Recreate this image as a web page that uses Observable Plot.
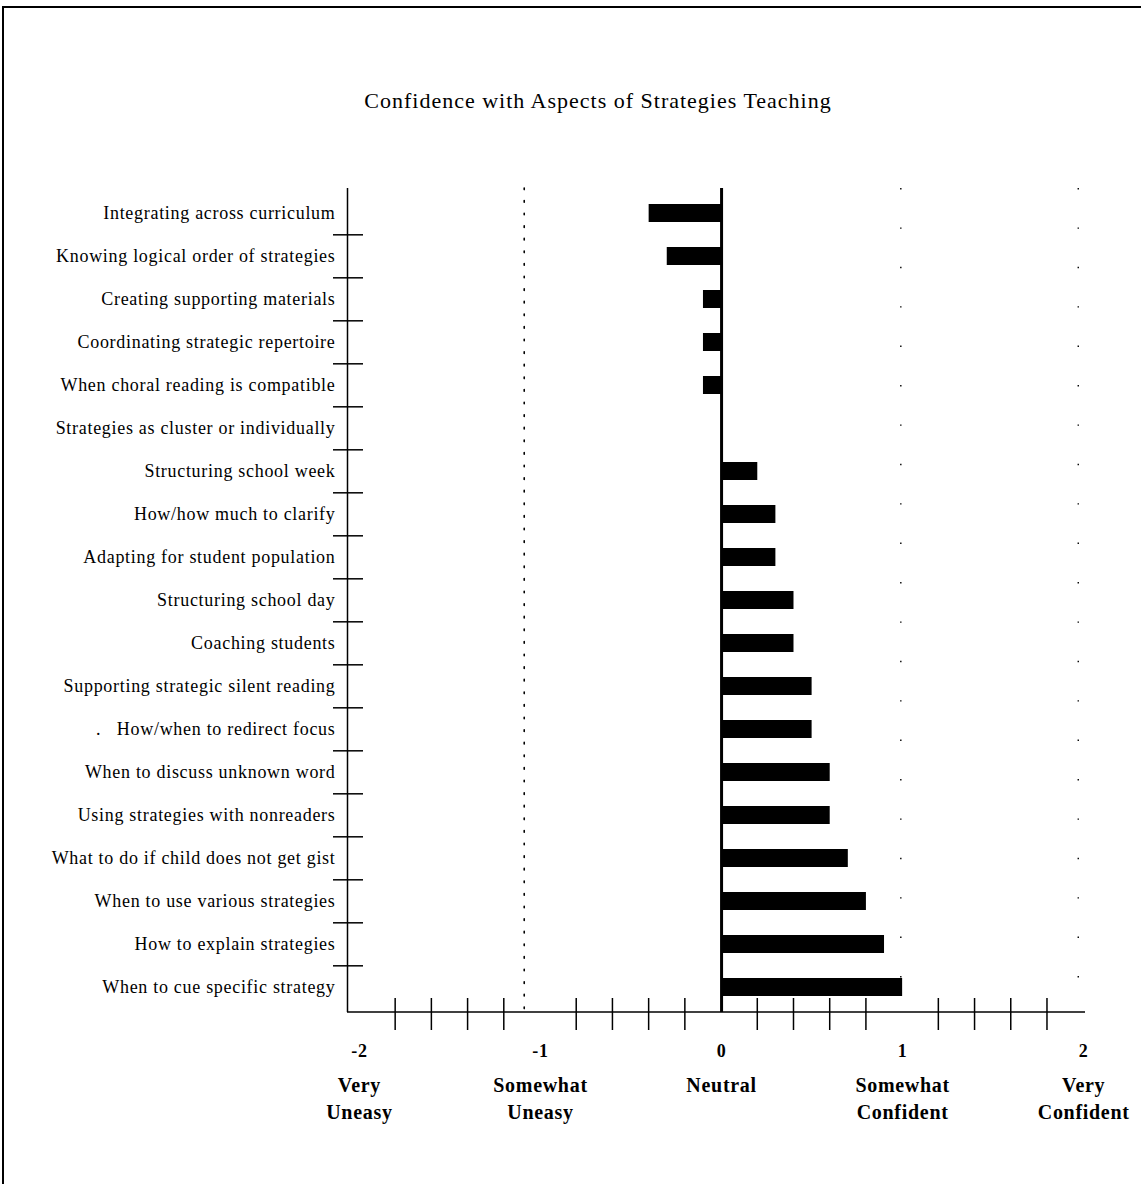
<!DOCTYPE html>
<html>
<head>
<meta charset="utf-8">
<script src="https://cdn.jsdelivr.net/npm/d3@7"></script>
<script src="https://cdn.jsdelivr.net/npm/@observablehq/plot@0.6"></script>
<style>
  html, body { margin: 0; padding: 0; background: #fff; }
  #page { position: relative; width: 1141px; height: 1184px; overflow: hidden; background: #fff; }
  #border { position: absolute; left: 2px; top: 6px; width: 1145px; height: 1190px;
            border-left: 2px solid #000; border-top: 2px solid #000; }
  #title { position: absolute; left: 0; width: 1196px; top: 88px; text-align: center;
           font-family: "Liberation Serif", "DejaVu Serif", serif; font-size: 22px; letter-spacing: 1px; color: #000; }
  #chart { position: absolute; left: 0; top: 0; }
</style>
</head>
<body>
<div id="page">
  <div id="border"></div>
  <div id="title">Confidence with Aspects of Strategies Teaching</div>
  <div id="chart"></div>
</div>
<script>
const categories = [
  "Integrating across curriculum",
  "Knowing logical order of strategies",
  "Creating supporting materials",
  "Coordinating strategic repertoire",
  "When choral reading is compatible",
  "Strategies as cluster or individually",
  "Structuring school week",
  "How/how much to clarify",
  "Adapting for student population",
  "Structuring school day",
  "Coaching students",
  "Supporting strategic silent reading",
  ".   How/when to redirect focus",
  "When to discuss unknown word",
  "Using strategies with nonreaders",
  "What to do if child does not get gist",
  "When to use various strategies",
  "How to explain strategies",
  "When to cue specific strategy"
];
const values = [-0.4, -0.3, -0.1, -0.1, -0.1, 0, 0.2, 0.3, 0.3, 0.4, 0.4, 0.5, 0.5, 0.6, 0.6, 0.7, 0.8, 0.9, 1.0];

const tickValues = [-2, -1, 0, 1, 2];
const tickNames = ["-2", "-1", "0", "1", "2"];
const scaleLabels = ["Very\nUneasy", "Somewhat\nUneasy", "Neutral", "Somewhat\nConfident", "Very\nConfident"];
const minorTicks = [-1.8, -1.6, -1.4, -1.2, -0.8, -0.6, -0.4, -0.2, 0.2, 0.4, 0.6, 0.8, 1.2, 1.4, 1.6, 1.8];
const refLinesDense = [-1.09];
const refLinesSparse = [0.99, 1.97];
const xDomain = [-2.066, 2.01];

const data = categories.map((c, i) => ({category: c, value: values[i]}));

const W = 1141, H = 1184, mT = 188, mB = 172, mL = 347, mR = 56;
const step = (H - mT - mB) / categories.length;
const serif = "Liberation Serif, DejaVu Serif, serif";

const chart = Plot.plot({
  width: W,
  height: H,
  marginTop: mT,
  marginBottom: mB,
  marginLeft: mL,
  marginRight: mR,
  style: {fontFamily: serif, background: "transparent", color: "#000", letterSpacing: "0.7px"},
  x: {domain: xDomain, axis: null},
  y: {domain: categories, paddingInner: 0.58, paddingOuter: 0.29, axis: null},
  marks: [
    // dotted reference lines
    Plot.ruleX(refLinesDense, {x: d => d, stroke: "#000", strokeWidth: 1.6, strokeDasharray: "1.6,11", strokeLinecap: "round"}),
    Plot.ruleX(refLinesSparse, {x: d => d, stroke: "#000", strokeWidth: 1.4, strokeDasharray: "1.4,38"}),
    // bars
    Plot.barX(data, {x: "value", y: "category", fill: "#000"}),
    // zero line
    Plot.ruleX([0], {stroke: "#000", strokeWidth: 3}),
    // y axis line
    Plot.ruleX([xDomain[0]], {stroke: "#000", strokeWidth: 1.5}),
    // category boundary ticks crossing the y axis
    Plot.ruleY(categories.slice(1), {y: d => d, x1: xDomain[0], x2: xDomain[0], dy: -step / 2,
      insetLeft: -14, insetRight: -16, stroke: "#000", strokeWidth: 1.5}),
    // category labels
    Plot.text(categories, {y: d => d, x: xDomain[0], text: d => d, textAnchor: "end", dx: -12,
      fontSize: 18, fill: "#000"}),
    // tick numbers
    Plot.text(tickValues, {x: d => d, frameAnchor: "bottom", text: (d, i) => tickNames[i],
      dy: 44, fontSize: 18, fontWeight: "bold", fill: "#000"}),
    // tick descriptions
    Plot.text(tickValues, {x: d => d, frameAnchor: "bottom", text: (d, i) => scaleLabels[i],
      dy: 60, lineAnchor: "top", lineHeight: 1.35, fontSize: 20, fontWeight: "bold", fill: "#000"})
  ]
});

// x axis line and crossing minor ticks, positioned with Plot's own x scale
const xs = chart.scale("x");
const xScale = d3.scaleLinear(xs.domain, xs.range);
const svg = d3.select(chart);
const axisY = H - mB;
svg.append("line").attr("x1", xs.range[0]).attr("x2", xs.range[1]).attr("y1", axisY).attr("y2", axisY)
  .attr("stroke", "#000").attr("stroke-width", 1.5);
svg.selectAll("line.mt").data(minorTicks).join("line").attr("class", "mt")
  .attr("x1", d => xScale(d)).attr("x2", d => xScale(d))
  .attr("y1", axisY - 14).attr("y2", axisY + 18)
  .attr("stroke", "#000").attr("stroke-width", 1.5);

document.getElementById("chart").appendChild(chart);
</script>
</body>
</html>
